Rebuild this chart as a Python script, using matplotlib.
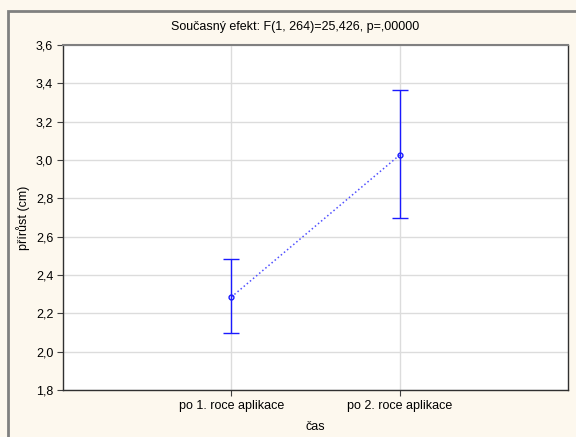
import numpy as np
import matplotlib.pyplot as plt
from matplotlib.patches import Rectangle

plt.rcParams['font.family'] = ['Liberation Sans', 'DejaVu Sans']

categories = ["po 1. roce aplikace", "po 2. roce aplikace"]
means = [2.285, 3.026]
upper = [2.484, 3.365]
lower = [2.098, 2.698]

title = "Současný efekt: F(1, 264)=25,426, p=,00000"

bg = '#fdf8ee'
blue = '#1a1aff'

fig = plt.figure(figsize=(5.76, 4.37), dpi=100, facecolor=bg)
# outer frame of the graph window (left and top edges visible)
top = 1 - 11 / 437
fig.patches.append(Rectangle((8 / 576, -0.1), 2, top + 0.1, transform=fig.transFigure,
                             facecolor='none', edgecolor='#808080', linewidth=2))

ax = fig.add_axes([63 / 576, 1 - 390 / 437, 505 / 576, 345 / 437])
ax.set_facecolor('white')

x = np.arange(len(categories))
m = np.array(means)
yerr = [m - np.array(lower), np.array(upper) - m]

ax.plot(x, m, linestyle=':', color='#5050ff', linewidth=1.1, zorder=3)
ax.errorbar(x, m, yerr=yerr, fmt='o', color=blue, ecolor=blue, markersize=3.5,
            markerfacecolor='none', markeredgewidth=1.0, capsize=6,
            elinewidth=1.0, capthick=1.0, zorder=4)

ax.set_xlim(-1, 2)
ax.set_ylim(1.8, 3.6)
ax.set_xticks(x)
ax.set_xticklabels(categories, fontsize=9)
yt = np.arange(1.8, 3.61, 0.2)
ax.set_yticks(yt)
ax.set_yticklabels([f"{v:.1f}".replace('.', ',') for v in yt], fontsize=9)

ax.grid(True, color='#dcdcdc', linewidth=1.0)
ax.set_axisbelow(True)
ax.tick_params(direction='out', length=4, width=0.8, color='#404040', pad=3)

for side in ['left', 'bottom', 'right']:
    ax.spines[side].set_color('#303030')
    ax.spines[side].set_linewidth(1.0)
ax.spines['top'].set_color('#808080')
ax.spines['top'].set_linewidth(1.5)

ax.set_xlabel("čas", fontsize=9, labelpad=7)
ax.set_ylabel("přírůst (cm)", fontsize=9, labelpad=4)
fig.text(295 / 576, 1 - 27 / 437, title, ha='center', va='center', fontsize=9)

fig.savefig('out.png', dpi=100, facecolor=bg)
